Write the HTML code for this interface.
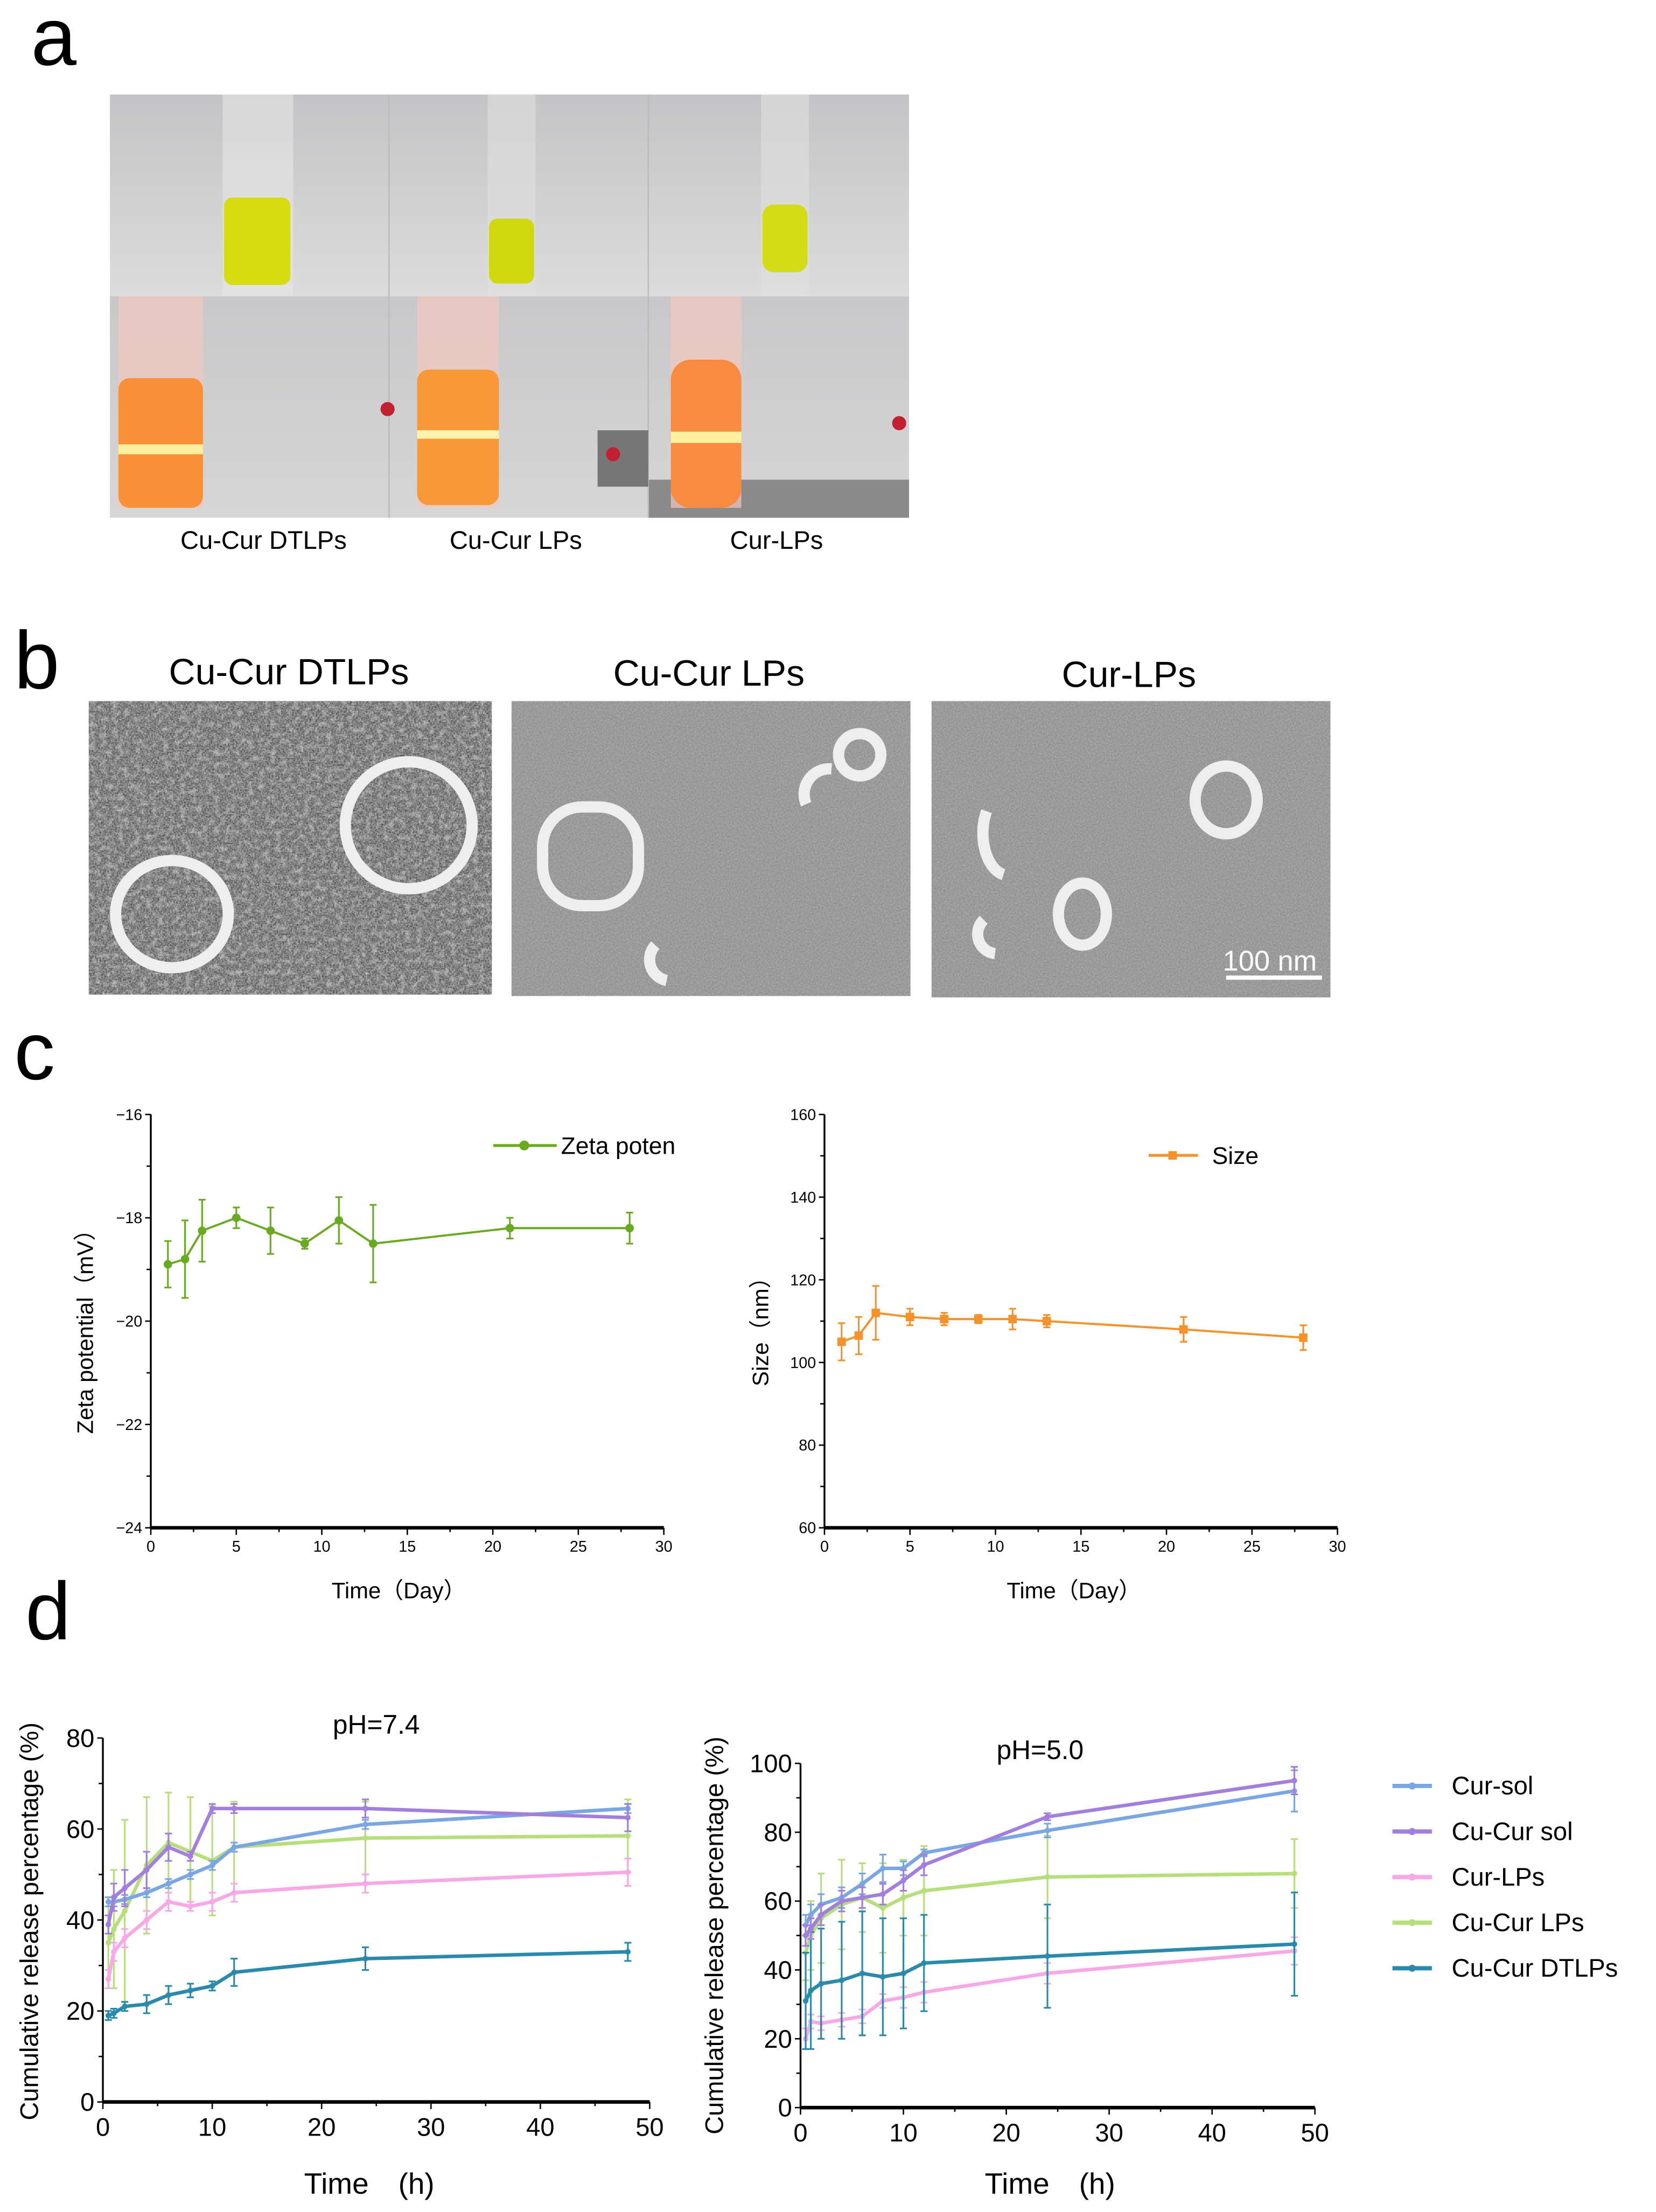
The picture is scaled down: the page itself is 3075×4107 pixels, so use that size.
<!DOCTYPE html>
<html><head><meta charset="utf-8"><style>
html,body{margin:0;padding:0;background:#fff}
svg{display:block}
text{font-family:"Liberation Sans",sans-serif}
</style></head><body>
<svg id="fig" width="3075" height="4107" viewBox="0 0 1175 1568" preserveAspectRatio="none" xmlns="http://www.w3.org/2000/svg">
<defs>
<filter id="noise" x="0" y="0" width="100%" height="100%"><feTurbulence type="fractalNoise" baseFrequency="0.9" numOctaves="2" seed="3"/><feColorMatrix type="matrix" values="0 0 0 0 0.5  0 0 0 0 0.5  0 0 0 0 0.5  0 0 0 1.2 -0.1"/></filter>
<filter id="noise2" x="0" y="0" width="100%" height="100%"><feTurbulence type="fractalNoise" baseFrequency="0.25" numOctaves="3" seed="7"/><feColorMatrix type="matrix" values="0 0 0 0 0.8  0 0 0 0 0.8  0 0 0 0 0.8  0 0 0 2.5 -1.1"/></filter>
<linearGradient id="topg" x1="0" y1="0" x2="0" y2="1"><stop offset="0" stop-color="#c4c4c6"/><stop offset="1" stop-color="#dcdcdc"/></linearGradient>
<linearGradient id="botg" x1="0" y1="0" x2="0" y2="1"><stop offset="0" stop-color="#c8c8ca"/><stop offset="1" stop-color="#d6d6d6"/></linearGradient>
</defs>
<!-- panel a -->
<text x="22" y="46" font-family="Liberation Serif" font-size="58">a</text>
<g>
<rect x="78" y="67" width="567" height="143" fill="url(#topg)"/>
<rect x="78" y="210" width="567" height="157" fill="url(#botg)"/>
<rect x="460" y="340" width="185" height="27" fill="#8a8a8a"/>
<line x1="276" y1="67" x2="276" y2="367" stroke="#bbb"/><line x1="460" y1="67" x2="460" y2="367" stroke="#bbb"/>
<rect x="158" y="67" width="50" height="143" fill="#e6e6e6" opacity="0.6"/>
<rect x="159" y="140" width="47" height="62" rx="6" fill="#d6dc10"/>
<rect x="346" y="67" width="34" height="143" fill="#e0e0e0" opacity="0.6"/>
<rect x="347" y="155" width="32" height="46" rx="6" fill="#d0d810"/>
<rect x="540" y="67" width="34" height="143" fill="#e0e0e0" opacity="0.6"/>
<rect x="541" y="145" width="32" height="48" rx="8" fill="#d4dc18"/>
<rect x="84" y="210" width="60" height="150" fill="#f2c8c0" opacity="0.7"/>
<rect x="84" y="268" width="60" height="92" rx="8" fill="#fa9038"/>
<rect x="84" y="315" width="60" height="7" fill="#fff0a0"/>
<rect x="296" y="210" width="58" height="150" fill="#f2c8c0" opacity="0.7"/>
<rect x="296" y="262" width="58" height="96" rx="8" fill="#f89838"/>
<rect x="296" y="305" width="58" height="6" fill="#fff3b0"/>
<rect x="476" y="210" width="50" height="150" fill="#f2c8c0" opacity="0.7"/>
<rect x="476" y="255" width="50" height="105" rx="14" fill="#fa8a40"/>
<rect x="476" y="306" width="50" height="8" fill="#fff0a0"/>
<rect x="424" y="305" width="36" height="40" fill="#777"/><circle cx="275" cy="290" r="5" fill="#c02030"/><circle cx="435" cy="322" r="5" fill="#c02030"/><circle cx="638" cy="300" r="5" fill="#c02030"/>
</g>
<text x="187" y="389" font-size="18" text-anchor="middle">Cu-Cur DTLPs</text>
<text x="366" y="389" font-size="18" text-anchor="middle">Cu-Cur LPs</text>
<text x="551" y="389" font-size="18" text-anchor="middle">Cur-LPs</text>
<!-- panel b -->
<text x="10" y="488" font-family="Liberation Serif" font-size="58">b</text>
<text x="205" y="485" font-size="26" text-anchor="middle">Cu-Cur DTLPs</text>
<text x="503" y="486" font-size="26" text-anchor="middle">Cu-Cur LPs</text>
<text x="801" y="487" font-size="26" text-anchor="middle">Cur-LPs</text>
<g>
<rect x="63" y="497" width="286" height="208" fill="#3e3e3e"/><rect x="63" y="497" width="286" height="208" filter="url(#noise)"/><rect x="63" y="497" width="286" height="208" filter="url(#noise2)" opacity="0.5"/>
<rect x="363" y="497" width="283" height="209" fill="#8a8a8a"/><rect x="363" y="497" width="283" height="209" filter="url(#noise)" opacity="0.7"/>
<rect x="661" y="497" width="283" height="210" fill="#8a8a8a"/><rect x="661" y="497" width="283" height="210" filter="url(#noise)" opacity="0.7"/>
<g fill="none" stroke="#eee" stroke-width="8">
<circle cx="290" cy="585" r="45"/><ellipse cx="122" cy="648" rx="40" ry="38"/>
<rect x="385" y="572" width="68" height="70" rx="28"/><circle cx="610" cy="535" r="15"/><path d="M590 545 a18 18 0 0 0 -18 25"/><path d="M465 670 a15 15 0 0 0 8 25"/>
<ellipse cx="870" cy="567" rx="22" ry="24"/><ellipse cx="768" cy="648" rx="17" ry="22"/><path d="M700 575 a18 30 0 0 0 12 45"/><path d="M698 652 a14 14 0 0 0 8 24"/>
</g>
<line x1="870" y1="693" x2="938" y2="693" stroke="#fff" stroke-width="3"/>
<text x="901" y="688" font-size="20" fill="#fff" text-anchor="middle">100 nm</text>
</g>
<!-- panel c -->
<text x="10" y="765" font-family="Liberation Serif" font-size="58">c</text>
<!-- panel d -->
<text x="18" y="1162" font-family="Liberation Serif" font-size="58">d</text>
<g id="charts"></g>
</svg>
<script>
// ---- panel c data ----
const zetaDays=[1,2,3,5,7,9,11,13,21,28];
const zetaVals=[-18.9,-18.8,-18.25,-18.0,-18.25,-18.5,-18.05,-18.5,-18.2,-18.2];
const zetaErr=[0.45,0.75,0.6,0.2,0.45,0.1,0.45,0.75,0.2,0.3];
const sizeDays=[1,2,3,5,7,9,11,13,21,28];
const sizeVals=[105,106.5,112,111,110.5,110.5,110.5,110,108,106];
const sizeErr=[4.5,4.5,6.5,2,1.5,1,2.5,1.5,3,3];
const zetaTicks=[-16,-18,-20,-22,-24];
const sizeTicks=[60,80,100,120,140,160];
const dayTicks=[0,5,10,15,20,25,30];
// ---- panel d data ----
const releaseTimes=[0.5,1,2,4,6,8,10,12,24,48];
const seriesNames=["Cur-sol","Cu-Cur sol","Cur-LPs","Cu-Cur LPs","Cu-Cur DTLPs"];
const ph74CurSol=[44,44,44.5,46,48,50,52,56,61,64.5];
const ph74CuCurSol=[39,45,47,51,56,54,64.5,64.5,64.5,62.5];
const ph74CurLPs=[27,33,36,40,44,43,44,46,48,50.5];
const ph74CuCurLPs=[35,38,42,52,57,55,53,56,58,58.5];
const ph74DTLPs=[19,19.5,21,21.5,23.5,24.5,25.5,28.5,31.5,33];
const ph74Err=[[1,1,1,1,1,1,1,1,1,1],[2,3,4,4,3,1,1,1,2,3],[2,2,2,2,2,1,2,2,2,3],[10,13,20,15,11,12,12,10,8,8],[1,1,1,2,2,1.5,1,3,2.5,2]];
const ph50CurSol=[53,56,59,61,65,69.5,69.5,74,80.5,92];
const ph50CuCurSol=[50,52,56,60,61,62,66,70.5,84.5,95];
const ph50CurLPs=[20,25,24.5,25.5,26.5,31,32,33.5,39,45.5];
const ph50CuCurLPs=[45,50,55,59,61,58,61,63,67,68];
const ph50DTLPs=[31,34,36,37,39,38,39,42,44,47.5];
const ph50Err=[[3,3,3,3,3,4,2,1,2,6],[3,3,3,3,3,3,3,3,1,4],[3,2,2,2,2,2,3,3,3,4],[8,10,13,13,10,13,11,13,12,10],[14,17,16,17,18,17,16,14,15,15]];
const pctTicks74=[0,20,40,60,80];
const pctTicks50=[0,20,40,60,80,100];
const hourTicks=[0,10,20,30,40,50];
const colors=["#7aa6e2","#a27fdd","#f8a8e6","#b6df7c","#2a8aac"];

const NS="http://www.w3.org/2000/svg";
const root=document.getElementById('charts');
function mk(tag,attrs,parent){const e=document.createElementNS(NS,tag);for(const k in attrs)e.setAttribute(k,attrs[k]);(parent||root).appendChild(e);return e;}
function axes(o){
  const g=mk('g',{});
  
  
  const sx=v=>o.x0+(v-o.xmin)/(o.xmax-o.xmin)*(o.x1-o.x0);
  const sy=v=>o.y0-(v-o.ymin)/(o.ymax-o.ymin)*(o.y0-o.y1);
  mk('line',{x1:o.x0,y1:o.y0,x2:o.x0,y2:o.y1,stroke:'#000','stroke-width':1.3},g);
  mk('line',{x1:o.x0,y1:o.y0,x2:o.x1,y2:o.y0,stroke:'#000','stroke-width':o.xw},g);
  o.yt.forEach(v=>{mk('line',{x1:o.x0-4,y1:sy(v),x2:o.x0,y2:sy(v),stroke:'#000'},g);
    const t=mk('text',{x:o.x0-6,y:sy(v)+o.fs*0.35,'font-size':o.fs,'text-anchor':'end'},g);t.textContent=v<0?'\u2212'+(-v):v;
    });
  o.xt.forEach(v=>{mk('line',{x1:sx(v),y1:o.y0,x2:sx(v),y2:o.y0+5,stroke:'#000'},g);
    const t=mk('text',{x:sx(v),y:o.y0+o.fs+6,'font-size':o.fs,'text-anchor':'middle'},g);t.textContent=v;
    });
  if(o.minor){o.xt.slice(0,-1).forEach((v,i)=>{const m=(v+o.xt[i+1])/2;mk('line',{x1:sx(m),y1:o.y0,x2:sx(m),y2:o.y0+3,stroke:'#000'},g);});
    o.yt.slice(0,-1).forEach((v,i)=>{const m=(v+o.yt[i+1])/2;mk('line',{x1:o.x0-3,y1:sy(m),x2:o.x0,y2:sy(m),stroke:'#000'},g);});}
  return {g,sx,sy};
}
function series(ax,xs,ys,es,color,name,marker,sw){
  const g=mk('g',{},ax.g);
  
  
  xs.forEach((x,i)=>{const X=ax.sx(x),a=ax.sy(ys[i]+es[i]),b=ax.sy(ys[i]-es[i]);
    mk('line',{x1:X,y1:a,x2:X,y2:b,stroke:color,'stroke-width':1.2},g);
    mk('line',{x1:X-2.5,y1:a,x2:X+2.5,y2:a,stroke:color,'stroke-width':1.2},g);
    mk('line',{x1:X-2.5,y1:b,x2:X+2.5,y2:b,stroke:color,'stroke-width':1.2},g);});
  mk('polyline',{points:xs.map((x,i)=>ax.sx(x)+','+ax.sy(ys[i])).join(' '),fill:'none',stroke:color,'stroke-width':sw},g);
  xs.forEach((x,i)=>{const X=ax.sx(x),Y=ax.sy(ys[i]);
    if(marker==='c')mk('circle',{cx:X,cy:Y,r:3,fill:color},g);
    else if(marker==='s')mk('rect',{x:X-3,y:Y-3,width:6,height:6,fill:color},g);
    else mk('circle',{cx:X,cy:Y,r:2,fill:color},g);});
}
function txt(x,y,s,fs,name,extra){const t=mk('text',Object.assign({x:x,y:y,'font-size':fs},extra||{}));t.textContent=s;
  return t;}

// zeta chart
const z=axes({name:'zeta-chart',x0:107,x1:471,y0:1083,y1:790,xmin:0,xmax:30,ymin:-24,ymax:-16,yt:zetaTicks,xt:dayTicks,fs:11,xw:2.5,minor:true});
series(z,zetaDays,zetaVals,zetaErr,'#6aaa22','zeta-series','c',1.5);
mk('line',{x1:350,y1:812,x2:395,y2:812,stroke:'#6aaa22','stroke-width':2});mk('circle',{cx:372,cy:812,r:3.5,fill:'#6aaa22'});
txt(398,818,'Zeta poten',17,'zeta-legend');
txt(0,0,'Zeta potential（mV）',16,'zeta-y-title',{transform:'translate(66,940) rotate(-90)','text-anchor':'middle',"font-family":'"Liberation Sans","Noto Sans CJK SC",sans-serif'});
txt(283,1133,'Time（Day）',16,'zeta-x-title',{'text-anchor':'middle',"font-family":'"Liberation Sans","Noto Sans CJK SC",sans-serif'});
// size chart
const s=axes({name:'size-chart',x0:585,x1:949,y0:1083,y1:790,xmin:0,xmax:30,ymin:60,ymax:160,yt:sizeTicks,xt:dayTicks,fs:11,xw:2.5,minor:true});
series(s,sizeDays,sizeVals,sizeErr,'#f7922a','size-series','s',1.5);
mk('line',{x1:815,y1:819,x2:850,y2:819,stroke:'#f7922a','stroke-width':2});mk('rect',{x:829,y:816,width:6,height:6,fill:'#f7922a'});
txt(860,825,'Size',17,'size-legend');
txt(0,0,'Size（nm）',16,'size-y-title',{transform:'translate(545,940) rotate(-90)','text-anchor':'middle',"font-family":'"Liberation Sans","Noto Sans CJK SC",sans-serif'});
txt(762,1133,'Time（Day）',16,'size-x-title',{'text-anchor':'middle',"font-family":'"Liberation Sans","Noto Sans CJK SC",sans-serif'});

// release pH 7.4
const r1=axes({name:'release-ph74-chart',x0:73,x1:461,y0:1490,y1:1232,xmin:0,xmax:50,ymin:0,ymax:80,yt:pctTicks74,xt:hourTicks,fs:18,xw:2.5,minor:true});
const d74=[ph74CurSol,ph74CuCurSol,ph74CurLPs,ph74CuCurLPs,ph74DTLPs];
const order=[3,2,4,0,1];
order.forEach(k=>series(r1,releaseTimes,d74[k],ph74Err[k],colors[k],'ph74-'+seriesNames[k].toLowerCase().replace(/ /g,'-'),'d',2.5));
txt(267,1229,'pH=7.4',19,'ph74-title',{'text-anchor':'middle'});
txt(0,0,'Cumulative release percentage (%)',18,'ph74-y-title',{transform:'translate(27,1362) rotate(-90)','text-anchor':'middle'});
txt(262,1555,'Time　(h)',21,'ph74-x-title',{'text-anchor':'middle',"font-family":'"Liberation Sans","Noto Sans CJK SC",sans-serif'});
// release pH 5.0
const r2=axes({name:'release-ph50-chart',x0:568,x1:933,y0:1494,y1:1250,xmin:0,xmax:50,ymin:0,ymax:100,yt:pctTicks50,xt:hourTicks,fs:18,xw:2.5,minor:true});
const d50=[ph50CurSol,ph50CuCurSol,ph50CurLPs,ph50CuCurLPs,ph50DTLPs];
order.forEach(k=>series(r2,releaseTimes,d50[k],ph50Err[k],colors[k],'ph50-'+seriesNames[k].toLowerCase().replace(/ /g,'-'),'d',2.5));
txt(738,1247,'pH=5.0',19,'ph50-title',{'text-anchor':'middle'});
txt(0,0,'Cumulative release percentage (%)',18,'ph50-y-title',{transform:'translate(513,1372) rotate(-90)','text-anchor':'middle'});
txt(745,1555,'Time　(h)',21,'ph50-x-title',{'text-anchor':'middle',"font-family":'"Liberation Sans","Noto Sans CJK SC",sans-serif'});
// legend
seriesNames.forEach((n,i)=>{const y=1266+i*32.3;
  const l=mk('line',{x1:988,y1:y,x2:1016,y2:y,stroke:colors[i],'stroke-width':3});
  
  
  mk('circle',{cx:1002,cy:y,r:2.5,fill:colors[i]});
  txt(1030,y+6,n,18,'legend-entry');});
</script>
</body></html>
